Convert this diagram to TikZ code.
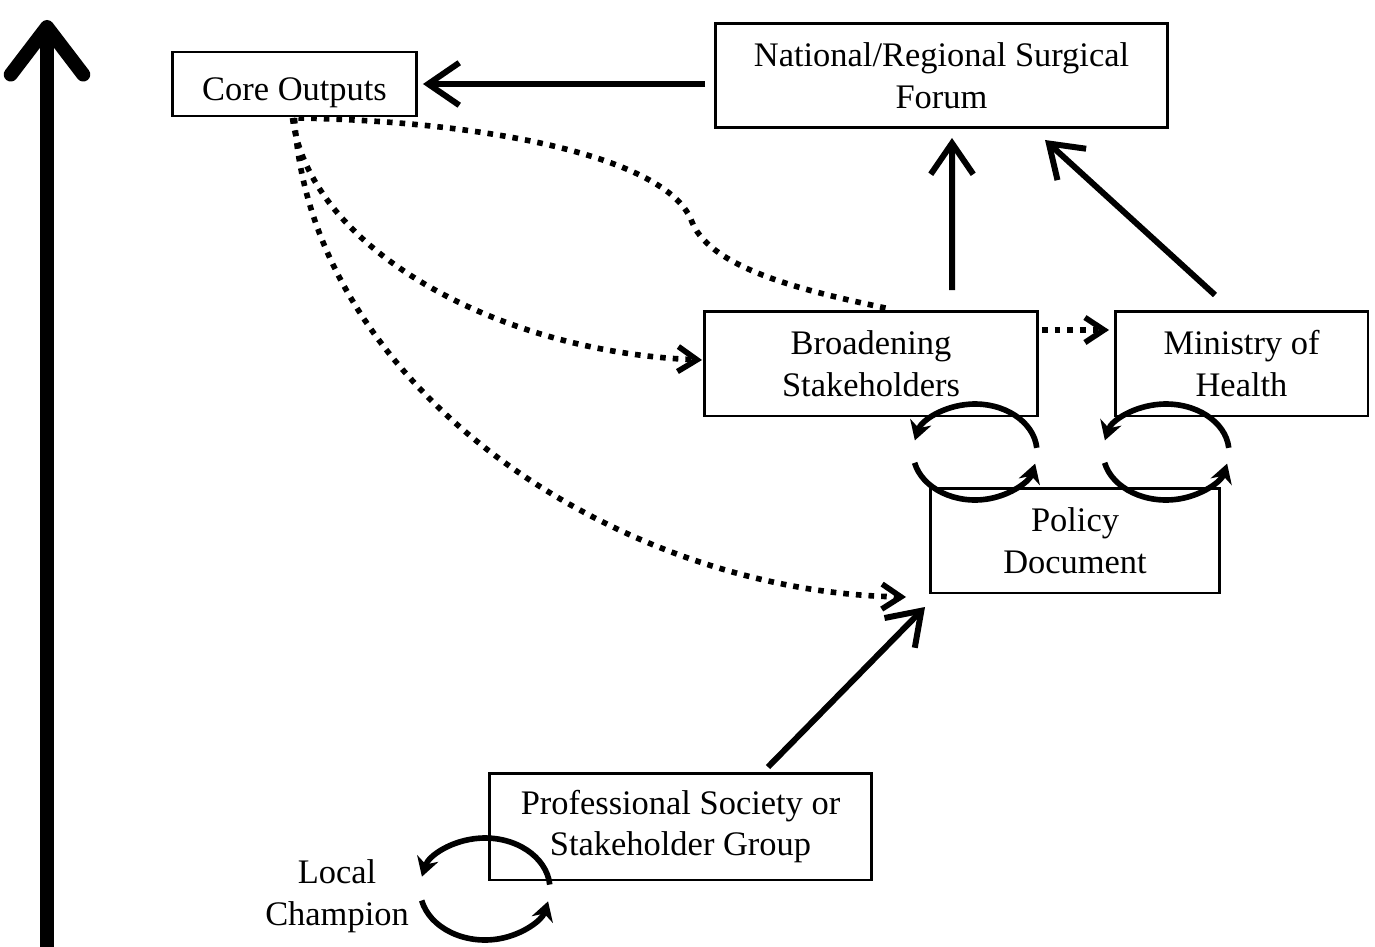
\documentclass[tikz,border=0pt]{standalone}
\usepackage{fontspec}
\setmainfont{Liberation Serif}
\usetikzlibrary{arrows.meta,calc}
\begin{document}
\begin{tikzpicture}[x=0.02cm,y=-0.02cm,
  box/.style={draw, line width=1.7pt, inner sep=0pt, outer sep=0pt, align=center,
    font=\fontsize{19.6}{23.6}\selectfont},
  lbl/.style={inner sep=0pt, align=center, font=\fontsize{19.6}{23.6}\selectfont},
  sarr/.style={line width=3.4pt, -{Straight Barb[length=0.62cm,width=0.85cm]}},
  darr/.style={line width=3.2pt, dash pattern=on 3.2pt off 4pt},
  dtip/.style={-{Straight Barb[length=0.38cm,width=0.5cm]}},
  cyc/.style={line width=3.2pt, -{Stealth[length=0.38cm,width=0.44cm]}},
  bigarr/.style={line width=8pt, -{Straight Barb[round,length=0.95cm,width=1.45cm]}}
  ]
\useasboundingbox (0,0) rectangle (1375,946);

% nodes
\node[box, minimum width=4.9cm, minimum height=1.28cm] (core) at (294.5,84) {\rule{0pt}{23pt}Core Outputs};
\node[box, minimum width=9.06cm, minimum height=2.1cm] (forum) at (941.5,75.5) {National/Regional Surgical\\Forum};
\node[box, minimum width=6.68cm, minimum height=2.1cm] (broad) at (871,363.5) {Broadening\\Stakeholders};
\node[box, minimum width=5.06cm, minimum height=2.1cm] (moh) at (1241.5,363.5) {Ministry of\\Health};
\node[box, minimum width=5.8cm, minimum height=2.1cm] (policy) at (1075,540.5) {Policy\\Document};
\node[box, minimum width=7.66cm, minimum height=2.14cm] (prof) at (680.5,826.5) {Professional Society or\\Stakeholder Group};
\node[lbl] (lc) at (337,896) {Local\\Champion};

% big vertical arrow
\coordinate (axb) at (47,960);
\coordinate (axt) at (47,20);
\draw[bigarr] (axb) -- (axt);

% solid arrows
\draw[sarr] ($(forum.west |- core.east)+(-10,0)$) -- ($(core.east)+(6,0)$);
\draw[sarr] ($(broad.north)+(81,-21)$) -- ($(forum.south)+(10.5,10)$);
\draw[sarr] ($(moh.north)+(-26.5,-16)$) -- ($(forum.south)+(103.5,12)$);
\draw[sarr] ($(prof.north)+(87.5,-6)$) -- ($(policy.south west)+(-5,14)$);

% dotted arrows
\draw[darr, dtip] ($(core.south)+(-2,2)$) .. controls (310,250) and (500,352) .. ($(broad.west)+(-2,-3.5)$);
\draw[darr, dtip] ($(core.south)+(0,2)$) .. controls (310,390) and (620,592) .. ($(policy.south west)+(-24,4)$);
\draw[darr] ($(core.south)+(4,2)$) .. controls (500,122) and (670,160) .. (692,222)
   .. controls (712,272) and (820,294) .. ($(broad.north)+(19,-2)$);
\draw[darr, dtip] ($(broad.east)+(4,-33.5)$) -- ($(moh.west)+(-6,-33.5)$);

% cycle arrows
\coordinate (c1) at (975,452);
\coordinate (c2) at (1166,452);
\coordinate (c3) at (485,889);
\draw[cyc] ([shift={(5:1.24cm and 0.96cm)}]c1) arc[start angle=5, end angle=166, x radius=1.24cm, y radius=0.96cm];
\draw[cyc] ([shift={(193:1.24cm and 0.96cm)}]c1) arc[start angle=193, end angle=346, x radius=1.24cm, y radius=0.96cm];
\draw[cyc] ([shift={(5:1.26cm and 0.96cm)}]c2) arc[start angle=5, end angle=166, x radius=1.26cm, y radius=0.96cm];
\draw[cyc] ([shift={(193:1.26cm and 0.96cm)}]c2) arc[start angle=193, end angle=346, x radius=1.26cm, y radius=0.96cm];
\draw[cyc] ([shift={(5:1.3cm and 1.02cm)}]c3) arc[start angle=5, end angle=166, x radius=1.3cm, y radius=1.02cm];
\draw[cyc] ([shift={(193:1.3cm and 1.02cm)}]c3) arc[start angle=193, end angle=346, x radius=1.3cm, y radius=1.02cm];
\end{tikzpicture}
\end{document}
